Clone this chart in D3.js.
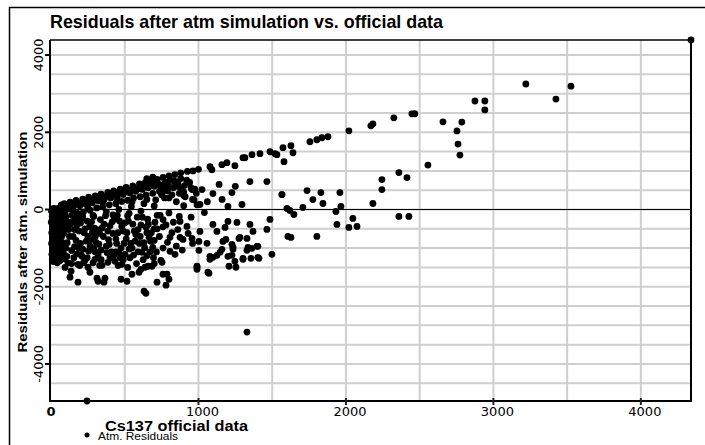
<!DOCTYPE html>
<html>
<head>
<meta charset="utf-8">
<script src="https://cdn.jsdelivr.net/npm/d3@7"></script>
<style>
body { margin: 0; background: #fff; }
svg { display: block; }
</style>
</head>
<body>
<svg width="705" height="445"></svg>
<script>
// axis values
const xTicks = [0, 1000, 2000, 3000, 4000];
const yTicks = [-4000, -2000, 0, 2000, 4000];
const xDomain = [0, 4340];
const yDomain = [-4960, 4390];

// [Cs137 official, residual]
const leftColumn = [
  [3,-40],[8,-180],[2,-330],[12,-460],[5,-600],[10,-750],[4,-880],[14,-1020],[6,-1160],[9,-1290],
  [25,-20],[30,-150],[22,-290],[35,-420],[28,-560],[32,-690],[24,-830],[38,-970],[27,-1100],[33,-1240],
  [48,-60],[55,-200],[45,-350],[58,-500],[50,-640],[62,-790],[47,-920],[56,-1060],[52,-1190],[60,-1330],
  [70,-110],[75,-270],[68,-420],[80,-560],[72,-700],[78,-860],[66,-1010],[85,-1140],
  [18,30],[40,20],[60,45],[15,-1350],[42,-1380],[88,-900],[90,-1280],[20,-1230],[65,-1250]
];
const upperBand = [
  [70,120],[90,150],[130,190],[170,235],[215,270],[255,320],[300,355],[340,400],[385,445],[425,480],
  [470,530],[510,575],[555,610],[600,660],[640,705],[680,740],[720,780],[760,830],[800,870],[840,905],
  [880,950],[925,985],[963,1000],[1000,1040],
  [75,-20],[115,20],[150,60],[195,95],[235,140],[280,170],[320,225],[360,255],[405,300],[450,340],
  [490,390],[535,425],[575,470],[620,520],[660,560],[700,600],[745,640],[790,700],[835,740],[880,800],[920,760],
  [100,-190],[140,-150],[180,-100],[220,-60],[265,-20],[310,40],[350,70],[395,120],[440,150],[480,210],
  [520,240],[560,300],[605,330],[645,370],[690,420],[735,470],[780,520],[820,380],[860,600],[900,450],
  [950,560],[985,420],
  [120,-330],[205,-230],[290,-180],[375,-60],[460,0],[545,80],[630,150],[710,250],[770,300],[850,200],
  [910,330],[970,250],[1010,130],[700,90],[610,-40],[530,-100],[420,-140],[650,800],[690,840],
  [80,60],[110,80],[160,130],[200,170],[245,200],[290,250],[330,290],[370,330],[415,370],[455,420],
  [500,460],[545,500],[590,540],[630,590],[675,640],[715,660],[800,600],[860,700],[150,-60],[250,40],
  [350,180],[450,240],[550,200],[650,260],[750,420]
];
const lowerCluster = [
  [108,-1213],[129,-1754],[183,-1883],[136,-1600],[183,-1419],[210,-1213],[264,-1625],[251,-1496],
  [312,-1780],[319,-1858],[366,-1780],[359,-1883],[298,-1290],[346,-1445],[386,-1367],[434,-1342],
  [481,-1419],[475,-1806],[515,-1858],[502,-1161],[549,-1677],[597,-1625],[637,-1496],[617,-1109],
  [658,-1470],[685,-1470],[759,-1677],[719,-1883],[631,-2116],[644,-2170],
  [95,-330],[120,-520],[150,-700],[175,-410],[200,-880],[225,-600],[245,-300],[270,-780],[290,-1000],
  [310,-520],[335,-260],[355,-700],[375,-950],[400,-420],[420,-620],[445,-880],[465,-300],[490,-560],
  [510,-760],[530,-1020],[555,-380],[575,-650],[600,-880],[620,-200],[645,-460],[665,-720],[690,-980],[705,-330],
  [110,-860],[140,-1060],[165,-250],[190,-560],[215,-1030],[240,-820],[260,-450],[285,-150],[300,-700],
  [325,-900],[345,-480],[370,-160],[390,-780],[410,-1100],[430,-250],[455,-600],[475,-1000],[500,-350],
  [520,-160],[540,-880],[565,-560],[590,-1100],[610,-400],[635,-990],[655,-250],[680,-600],[700,-800],
  [85,-620],[130,-380],[160,-960],[185,-150],[205,-1180],[230,-1320],[255,-1080],[280,-600],[320,-1180],
  [340,-1300],[380,-1120],[425,-1200],[450,-150],[470,-1250],[535,-1250],[560,-1180],[585,-200],
  [625,-1300],[670,-1100],[695,-1250],[720,-500],[740,-150],[760,-1000],[745,-1320],[780,-400],
  [62,-150],[95,-80],[105,-450],[125,-700],[145,-320],[160,-520],[170,-800],[190,-1000],[200,-350],
  [215,-180],[230,-500],[250,-700],[265,-950],[275,-320],[295,-480],[305,-850],[330,-620],[340,-1050],
  [360,-380],[385,-560],[395,-900],[415,-320],[440,-760],[460,-1120],[480,-440],[495,-880],[515,-600],
  [525,-300],[550,-1000],[570,-820],[590,-520],[605,-700],[630,-860],[650,-600],[660,-380],[675,-820],
  [700,-500],[715,-1100],[735,-700],[760,-450],[790,-850],[820,-600],[850,-950],[870,-180],[890,-1050],
  [930,-620],[960,-880],[100,-1000],[115,-1380],[155,-1250],[175,-1150],[195,-1450],[220,-1380],
  [245,-1250],[285,-1380],[300,-1100],[330,-1450],[400,-1250],[440,-1100],[455,-1450],[490,-1300],
  [520,-1500],[580,-1400],[610,-1550],[650,-1200],[700,-1400],[95,-1500],[140,-1400]
];
const midScatter = [
  [740,620],[775,700],[810,760],[845,640],[720,700],[760,560],[790,480],[830,560],[870,420],[905,620],
  [940,700],[975,530],[750,380],[800,300],[900,360],[960,260],[990,120],
  [1078,1109],[1091,1032],[1159,1161],[1193,1212],[1247,1135],[1302,1342],[1315,1340],[1363,1419],
  [1417,1445],[1485,1496],[1532,1420],
  [1349,722],[1464,722],[1227,439],[1098,413],[1295,129],[1024,516],[956,516],[1566,387],[1600,26],
  [1160,260],[1060,200],[900,100],[1140,650],[1200,80],[880,560],[1250,600],
  [720,-150],[760,-260],[800,-90],[830,-330],[860,-520],[875,-310],[922,-439],[950,-200],[1010,-568],
  [1040,-80],[1098,-387],[1125,-568],[1180,-464],[1200,-310],[1261,-335],[1349,-387],[1370,-568],
  [1281,-722],[1485,-258],[1464,-516],[1403,-955],[1336,-980],[1302,-1290],[1403,-1238],[1498,-1161],
  [1234,-1032],[1200,-1213],[1078,-1213],[990,-1470],[1064,-1625],
  [807,-722],[875,-722],[895,-774],[956,-748],[1003,-826],[1003,-1058],[1058,-877],[807,-1084],
  [841,-1161],[753,-1367],[787,-1677],[800,-1806],[780,-1961],[990,-1496],[990,-1548],[1071,-1651],
  [1078,-1290],[1098,-1238],[1125,-1187],[1146,-1109],[1159,-1032],[1166,-826],[1186,-774],[1227,-903],
  [1234,-980],[1227,-1187],[1247,-1342],[1207,-1470],[1254,-1496],[1302,-1264],[1275,-748],[1329,-748],
  [1329,-1058],[1363,-1006],[1397,-955],[1356,-1264],[1410,-1264],[1329,-3174]
];
const rightScatter = [
  [1519,1445],[1573,1600],[1627,1651],[1580,1238],[1641,1470],[1756,1754],[1803,1806],[1837,1858],
  [1878,1884],[2020,2038],[2169,2167],[2183,2219],[2325,2374],[2447,2477],[2467,2480],
  [1566,387],[1736,490],[1830,439],[1959,439],[1776,258],[1844,155],[1620,-26],[1647,-129],[1708,52],
  [1932,-52],[1966,77],[1939,-387],[2020,-464],[2075,-439],[2047,-232],[2183,155],[2244,516],[2244,774],
  [2359,955],[2414,826],[2359,-180],[2427,-180],[1607,-697],[1627,-723],[1803,-697],
  [2556,1150],[2658,2270],[2753,2035],[2786,2265],[2760,1695],[2773,1410],[2875,2810],[2942,2810],
  [2942,2580],[3220,3250],[3424,2860],[3526,3195],[4340,4390],[244,-4960]
];

const points = [].concat(leftColumn, upperBand, lowerCluster, midScatter, rightScatter);

const svg = d3.select('svg');
svg.append('rect').attr('width', 705).attr('height', 445).attr('fill', '#fff');

// outer frame (only top and left fall inside the picture)
svg.append('path')
  .attr('d', 'M9.5,470V7.5H730')
  .attr('fill', 'none').attr('stroke', '#000').attr('stroke-width', 1.5);

const x = d3.scaleLinear().domain(xDomain).range([51, 691]);
const y = d3.scaleLinear().domain(yDomain).range([401, 40]);

// grid every 500
svg.append('g').selectAll('line')
  .data(x.ticks(10).filter(d => d > 0))
  .join('line')
    .attr('x1', d => x(d)).attr('x2', d => x(d))
    .attr('y1', 40).attr('y2', 401)
    .attr('stroke', '#cfcfcf').attr('stroke-width', 2);
svg.append('g').selectAll('line')
  .data(y.ticks(20))
  .join('line')
    .attr('x1', 50).attr('x2', 691)
    .attr('y1', d => y(d)).attr('y2', d => y(d))
    .attr('stroke', '#cfcfcf').attr('stroke-width', 2);

// zero line
svg.append('line')
  .attr('x1', 50).attr('x2', 691)
  .attr('y1', y(0)).attr('y2', y(0))
  .attr('stroke', '#000').attr('stroke-width', 1.2);

// plot frame
svg.append('line').attr('x1', 50).attr('x2', 50).attr('y1', 40).attr('y2', 402)
  .attr('stroke', '#000').attr('stroke-width', 2);
svg.append('line').attr('x1', 49).attr('x2', 692).attr('y1', 401).attr('y2', 401)
  .attr('stroke', '#000').attr('stroke-width', 2);
svg.append('line').attr('x1', 50).attr('x2', 692).attr('y1', 40).attr('y2', 40)
  .attr('stroke', '#000').attr('stroke-width', 1.5);
svg.append('line').attr('x1', 691).attr('x2', 691).attr('y1', 40).attr('y2', 402)
  .attr('stroke', '#000').attr('stroke-width', 2);

// tick marks
svg.append('g').selectAll('line')
  .data(yTicks)
  .join('line')
    .attr('x1', 45).attr('x2', 50)
    .attr('y1', d => y(d)).attr('y2', d => y(d))
    .attr('stroke', '#000').attr('stroke-width', 2);
svg.append('g').selectAll('line')
  .data(xTicks.filter(d => d > 0))
  .join('line')
    .attr('x1', d => x(d)).attr('x2', d => x(d))
    .attr('y1', 398).attr('y2', 405)
    .attr('stroke', '#222').attr('stroke-width', 2);

// tick labels
svg.append('g').selectAll('text')
  .data(xTicks)
  .join('text')
    .attr('x', d => d === 0 ? x(d) : x(d) + 4)
    .attr('y', 416)
    .attr('text-anchor', 'middle')
    .style('font-family', '"DejaVu Sans", sans-serif')
    .style('font-size', '13px')
    .style('font-weight', d => d === 0 ? 'bold' : 'normal')
    .text(d => d);
svg.append('g').selectAll('text')
  .data(yTicks)
  .join('text')
    .attr('transform', d => `translate(43,${y(d)}) rotate(-90)`)
    .attr('text-anchor', 'middle')
    .style('font-family', '"DejaVu Sans", sans-serif')
    .style('font-size', '13px')
    .text(d => d);

// titles
svg.append('text')
  .attr('x', 50).attr('y', 28)
  .attr('textLength', 393).attr('lengthAdjust', 'spacingAndGlyphs')
  .style('font-family', '"Liberation Sans Narrow", "Arial Narrow", "Liberation Sans", sans-serif')
  .style('font-size', '19px')
  .style('font-weight', 'bold')
  .text('Residuals after atm simulation vs. official data');

svg.append('text')
  .attr('transform', 'translate(27,242) rotate(-90)')
  .attr('text-anchor', 'middle')
  .attr('textLength', 221).attr('lengthAdjust', 'spacingAndGlyphs')
  .style('font-family', '"Liberation Sans", Arial, sans-serif')
  .style('font-size', '13px')
  .style('font-weight', 'bold')
  .text('Residuals after atm. simulation');

svg.append('text')
  .attr('x', 105).attr('y', 431)
  .attr('textLength', 143).attr('lengthAdjust', 'spacingAndGlyphs')
  .style('font-family', '"Liberation Sans", Arial, sans-serif')
  .style('font-size', '14px')
  .style('font-weight', 'bold')
  .text('Cs137 official data');

// legend
svg.append('circle').attr('cx', 87).attr('cy', 435).attr('r', 2.5).attr('fill', '#000');
svg.append('text')
  .attr('x', 98).attr('y', 440)
  .attr('textLength', 80).attr('lengthAdjust', 'spacingAndGlyphs')
  .style('font-family', '"Liberation Sans", Arial, sans-serif')
  .style('font-size', '11px')
  .text('Atm. Residuals');

// dots
svg.append('g')
  .selectAll('circle')
  .data(points)
  .join('circle')
    .attr('cx', d => x(d[0]))
    .attr('cy', d => y(d[1]))
    .attr('r', 3.4)
    .style('fill', '#000');
</script>
</body>
</html>
